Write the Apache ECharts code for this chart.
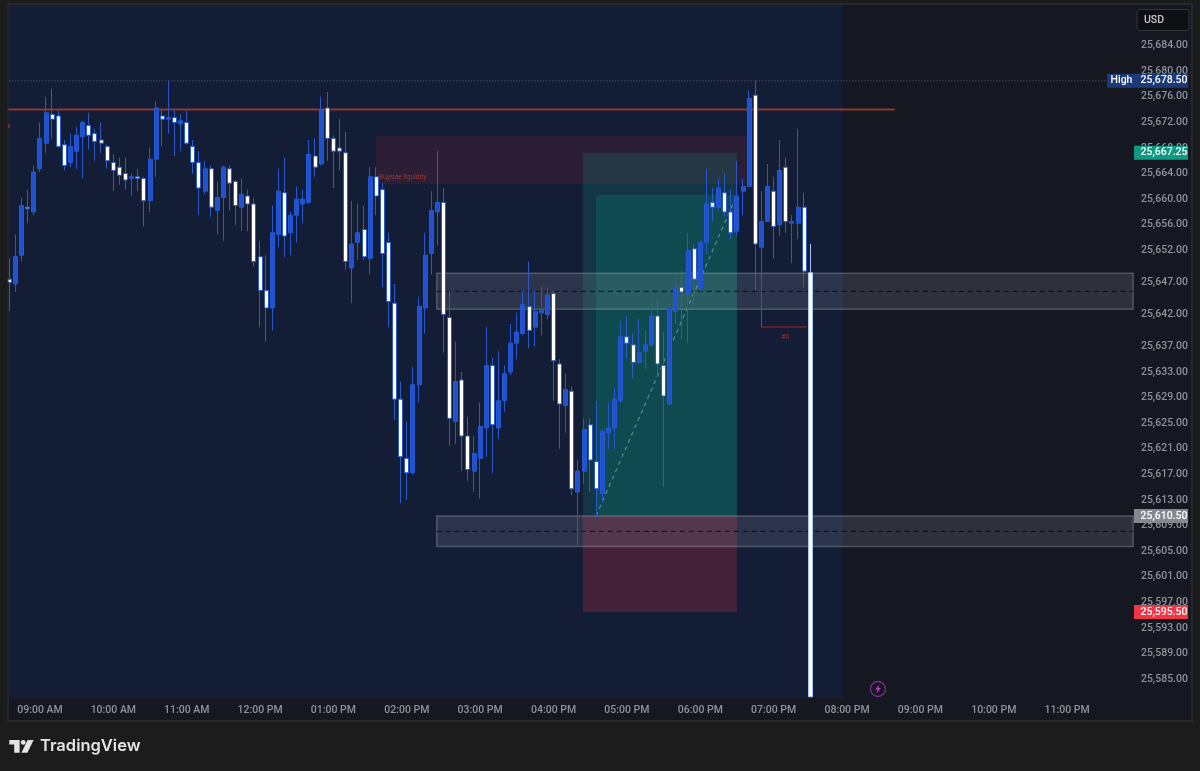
<!DOCTYPE html>
<html>
<head>
<meta charset="utf-8">
<title>NQ 5m</title>
<style>
  html, body { margin: 0; padding: 0; background: #1c1c1c; }
  #chart { width: 1200px; height: 771px; }
</style>
<script src="https://cdn.jsdelivr.net/npm/echarts@6/dist/echarts.min.js"></script>
</head>
<body>
<div id="chart"></div>
<script>
// 5 minute bars, open / close / low / high
const candles = [
  [25647.5,25647,25642.5,25650.75],[25646.75,25651,25645.5,25654.5],[25651.25,25659,25650.25,25660.25],[25658.75,25658.5,25656.25,25661.5],
  [25658,25664.25,25657.5,25665.25],[25664.75,25669.5,25664.25,25672],[25668.75,25673.5,25667.25,25676],[25673.25,25672.5,25669.5,25677.25],
  [25673,25668.25,25668,25673.75],[25668.5,25665.25,25664.5,25669.25],[25665.75,25668.25,25665,25670.25],[25667.5,25670,25664.75,25671.25],
  [25669.75,25672,25663.25,25672.25],[25671.5,25670,25667.75,25673.5],[25670.25,25669,25666,25671],[25669.25,25668.75,25667.25,25672],
  [25668.25,25666,25664.75,25668.5],[25665.75,25664.5,25661.25,25667],[25665,25663.75,25662.25,25666.5],[25664,25663,25661.5,25666.5],
  [25663.25,25663.5,25660.5,25664],[25663.5,25663.25,25661.25,25664.75],[25663.25,25659.75,25655.75,25663.5],[25659.75,25666.25,25658,25668],
  [25666.25,25674.25,25663.5,25675.25],[25673,25672.5,25668.25,25674],[25672.5,25672.75,25670.25,25678.5],[25672.75,25672,25666.75,25674],
  [25671.75,25672.25,25667.5,25673.25],[25672,25668.75,25668.5,25673.75],[25668.25,25665.75,25664,25669.25],[25665.75,25661.75,25657.5,25667.5],
  [25661.25,25664.75,25660.75,25666],[25664.75,25658.75,25657.25,25665.25],[25658.25,25660.25,25654.5,25662.75],[25660.25,25665,25653.5,25665.25],
  [25664.75,25662.5,25658.25,25665.25],[25662.75,25659,25656,25663],[25658.75,25660.75,25655,25663.25],[25660.5,25659.25,25655,25661.5],
  [25659.25,25650.25,25649.5,25660.25],[25651,25645.75,25640,25653.5],[25645.75,25643,25637.75,25651.25],[25643,25654.75,25639.5,25659],
  [25654.5,25661.25,25652.5,25664.75],[25661,25654.25,25651,25666.5],[25654.75,25657.5,25651.25,25658],[25657.5,25660,25653.25,25662],
  [25659.25,25660,25656.25,25661.5],[25659.5,25667,25659.25,25669.25],[25666.75,25665,25663.5,25669.5],[25665.5,25674,25665.25,25676],
  [25674.25,25669.5,25666,25676.75],[25669.5,25667.5,25661.75,25670],[25668,25667.5,25664.5,25672.5],[25667.25,25650.25,25649,25670.5],
  [25649.25,25653,25643.75,25659.75],[25653.25,25654.75,25650.5,25659.25],[25655.25,25651,25650.5,25659],[25650.75,25663.5,25648.25,25665],
  [25663.5,25660.5,25657.5,25665],[25661.5,25651.5,25646.25,25662.5],[25653.25,25644,25640,25654.75],[25643.75,25628.75,25625.5,25646.75],
  [25628.75,25619.75,25612.5,25631.5],[25619.5,25617.25,25613,25625.25],[25617.25,25631,25617,25633.75],[25631,25643.25,25628.25,25644.75],
  [25643,25651.25,25639,25654.75],[25651.5,25658.25,25648.25,25661.25],[25658,25659.5,25652.75,25667.5],[25659.5,25642,25636,25661.75],
  [25641.5,25625.75,25621.5,25645.75],[25625.25,25631.5,25621.75,25637.75],[25631.75,25623,25617.5,25633],[25623,25617.75,25616,25626],
  [25617.5,25620.25,25614.25,25623],[25619.5,25624.5,25613.25,25628.25],[25624.25,25634,25619.75,25640],[25634,25624.75,25617.25,25635.25],
  [25624.25,25628.5,25622.5,25636.25],[25628.5,25632.75,25626.75,25634],[25633,25637.5,25632.5,25640.5],[25637.5,25639.25,25635,25642.25],
  [25639,25643.5,25638.75,25645.75],[25643.25,25639.5,25636.75,25650.25],[25640,25642.5,25637,25645.75],[25642.25,25642.75,25638.75,25646.25],
  [25642,25645,25641.25,25646.25],[25645.25,25634.75,25628.5,25645.75],[25634.25,25628,25621,25635],[25627.75,25630.25,25623.5,25632.75],
  [25630,25614.75,25613.75,25630.75],[25614.25,25617.5,25605.75,25619.25],[25617.5,25624,25615.5,25625.75],[25624.75,25619.25,25614.25,25625.75],
  [25619,25614.75,25610.25,25628.5],[25614,25623.75,25612.5,25624],[25623.5,25624.25,25621,25628.25],[25624.25,25628.75,25621,25630.5],
  [25628.5,25638.5,25628.25,25641],[25638.5,25637.5,25635,25641.75],[25637.25,25634.5,25632,25639],[25634.5,25636,25634.25,25641.25],
  [25636.25,25637.25,25633.5,25639.5],[25637.25,25641.75,25637,25644],[25641.75,25634.25,25632.5,25644.25],[25634,25629.25,25615,25639.25],
  [25628,25643,25627.75,25644],[25642.5,25646.25,25640.5,25648.5],[25646.25,25645.5,25638,25648.75],[25645.25,25652,25637.5,25654.75],
  [25652.25,25647.5,25643,25653],[25646.25,25653.25,25645.5,25653.5],[25653.25,25659.25,25651.5,25664.75],[25659.5,25658.75,25656.5,25661.75],
  [25658.75,25661.75,25658.25,25663.25],[25661,25658,25657.25,25664],[25658,25654.75,25653.75,25661.5],[25655,25660.5,25654.25,25666],
  [25661.25,25662,25657.5,25663.25],[25662,25675.75,25662,25677],[25676.25,25653,25645.75,25678.5],[25652.5,25656.5,25640,25661.25],
  [25656.5,25662,25656.5,25665.5],[25661.25,25655.75,25650.75,25663.5],[25656,25664.5,25654.25,25669.25],[25665,25656.5,25654.75,25666.5],
  [25656.25,25656.5,25650,25657.5],[25656.25,25658.75,25653.75,25671],[25658.75,25648.75,25646.25,25661],[25648.5,25582.25,25582.25,25653]
]

const priceTicks = [25684, 25680, 25676, 25672, 25668, 25664, 25660, 25656, 25652, 25647, 25642, 25637, 25633, 25629, 25625, 25621, 25617, 25613, 25609, 25605, 25601, 25597, 25593, 25589, 25585]
const priceMin = 25582.06
const priceMax = 25690.34

// drawings: [from bar, to bar, top price, bottom price]
const sessionZone = [-0.5, 136.35, priceMax, priceMin]
const buysideZone = [59.96, 120.5, 25669.875, 25662.375]
const outerTarget = [93.8, 119.0, 25667.25, 25610.5]
const innerTarget = [95.95, 119.0, 25660.66, 25610.5]
const stopZone = [93.8, 119.0, 25610.5, 25595.5]
const upperBlock = [69.9, 183.8, 25648.42, 25642.8]
const lowerBlock = [69.9, 183.8, 25610.5, 25605.73]

// lines: [from bar, to bar, start price, end price]
const highLine = [-0.5, 179.5, 25678.5, 25678.5]
const buysideLine = [-0.5, 144.8, 25674.02, 25674.02]
const upperMid = [69.9, 183.8, 25645.6, 25645.6]
const lowerMid = [69.9, 183.8, 25608.1, 25608.1]
const riskLine = [95.95, 119.0, 25610.5, 25660.66]
const sweepLine = [123, 130.4, 25640.03, 25640.03]

const noteBars = [60.45, 126.9]
const notePrices = [25663.47, 25638.47]
const noteTexts = ['Buyside liquidity', '#0']

const tagPrices = [25678.5, 25667.25, 25610.5, 25595.5]
const tagColors = ['#1c3a78', '#0c9a82', '#85888f', '#f23645']

const categories = []
for (let i = 0; i < 185; i++) {
  const t = 8 * 60 + 35 + i * 5
  const h24 = Math.floor(t / 60)
  const h = h24 % 12 === 0 ? 12 : h24 % 12
  const m = t % 60
  categories.push((h < 10 ? '0' : '') + h + ':' + (m < 10 ? '0' : '') + m + (h24 < 12 ? ' AM' : ' PM'))
}

const axisFont = 'Roboto, sans-serif'
const money = v => v.toLocaleString('en-US', { minimumFractionDigits: 2, maximumFractionDigits: 2 })

function boxSeries(rows, fill, stroke, z) {
  return {
    type: 'custom',
    xAxisIndex: 1,
    yAxisIndex: 0,
    z: z,
    silent: true,
    clip: true,
    encode: { x: [0, 1], y: [2, 3] },
    data: rows,
    renderItem(params, api) {
      const a = api.coord([api.value(0), api.value(2)])
      const b = api.coord([api.value(1), api.value(3)])
      return {
        type: 'rect',
        shape: { x: a[0], y: a[1], width: b[0] - a[0], height: b[1] - a[1] },
        style: { fill: fill, stroke: stroke || 'none', lineWidth: stroke ? 1.5 : 0 }
      }
    }
  }
}

function lineSeries(rows, stroke, width, dash, z) {
  return {
    type: 'custom',
    xAxisIndex: 1,
    yAxisIndex: 0,
    z: z,
    silent: true,
    clip: true,
    encode: { x: [0, 1], y: [2, 3] },
    data: rows,
    renderItem(params, api) {
      const a = api.coord([api.value(0), api.value(2)])
      const b = api.coord([api.value(1), api.value(3)])
      return {
        type: 'line',
        shape: { x1: a[0], y1: a[1], x2: b[0], y2: b[1] },
        style: { stroke: stroke, lineWidth: width, lineDash: dash || null }
      }
    }
  }
}

const candleRows = candles.map((c, i) => {
  if (i === candles.length - 1) {
    return { value: c, itemStyle: { borderColor0: '#a9c6ff' } }
  }
  return c
})

const chart = echarts.init(document.getElementById('chart'))
chart.setOption({
  backgroundColor: '#1c1c1c',
  animation: false,
  grid: { left: 6.34, top: 5, width: 1131.09, height: 693 },
  xAxis: [{
    type: 'category',
    data: categories,
    axisLine: { show: false },
    axisTick: { show: false },
    splitLine: { show: false },
    axisLabel: {
      interval: (i, v) => v.indexOf(':00') === 2,
      color: '#8f9299',
      fontFamily: axisFont,
      fontSize: 10.5,
      fontWeight: 500,
      margin: 7,
      hideOverlap: false
    }
  }, {
    type: 'value',
    min: -0.5,
    max: 184.5,
    show: false
  }],
  yAxis: {
    type: 'value',
    position: 'right',
    min: priceMin,
    max: priceMax,
    scale: true,
    axisLine: { show: false },
    axisTick: { show: false },
    splitLine: { show: false },
    axisLabel: {
      customValues: priceTicks,
      formatter: v => money(v),
      color: '#8f9299',
      fontFamily: axisFont,
      fontSize: 10.5,
      fontWeight: 500,
      margin: 3.5,
      padding: [0, 0, 2, 0]
    }
  },
  graphic: [
    { type: 'rect', z: -1, shape: { x: 8, y: 4, width: 1184, height: 717 }, style: { fill: '#151821', stroke: '#26282d', lineWidth: 2 } },
    { type: 'rect', z: 50, shape: { x: 0, y: 0, width: 7.5, height: 771 }, style: { fill: '#1c1c1c' } },
    { type: 'rect', z: 50, shape: { x: 7.5, y: 4, width: 1, height: 717 }, style: { fill: '#26282d' } },
    { type: 'rect', z: 50, shape: { x: 8, y: 124.5, width: 2, height: 3 }, style: { fill: '#8a3030' } },
    // USD button
    { type: 'rect', z: 50, shape: { x: 1137, y: 9.5, width: 52, height: 21, r: 3 }, style: { fill: '#0e0f12', stroke: '#33363c', lineWidth: 1 } },
    { type: 'text', z: 51, style: { x: 1144, y: 20, text: 'USD', fill: '#c9cbd0', font: '500 10.5px ' + axisFont, verticalAlign: 'middle' } },
    // lightning badge
    { type: 'circle', z: 50, shape: { cx: 878, cy: 689, r: 7.5 }, style: { fill: 'none', stroke: '#7c2a8c', lineWidth: 1.3 } },
    { type: 'polygon', z: 50, shape: { points: [[879.5, 684.5], [875, 689.5], [877.6, 689.5], [876.5, 693.5], [881, 688], [878.4, 688]] }, style: { fill: '#b23ac6' } },
    // TradingView mark
    { type: 'polygon', z: 50, shape: { points: [[9.3, 740], [19.6, 740], [19.6, 752.7], [14.2, 752.7], [14.2, 744.6], [9.3, 744.6]] }, style: { fill: '#e4e4e4' } },
    { type: 'circle', z: 50, shape: { cx: 23.2, cy: 742.4, r: 2.4 }, style: { fill: '#e4e4e4' } },
    { type: 'polygon', z: 50, shape: { points: [[27.6, 740], [33.6, 740], [27.4, 752.7], [21.4, 752.7]] }, style: { fill: '#e4e4e4' } },
    { type: 'text', z: 50, style: { x: 40, y: 746, text: 'TradingView', fill: '#e4e4e4', font: '600 16.5px Inter, sans-serif', verticalAlign: 'middle' } }
  ],
  series: [
    boxSeries([sessionZone], '#141d36', null, 1),
    lineSeries([highLine], '#5a5f6b', 1, [1, 2], 1),
    boxSeries([buysideZone], 'rgba(130,40,50,0.22)', null, 2),
    boxSeries([outerTarget, innerTarget], 'rgba(8,153,129,0.2)', null, 2),
    boxSeries([stopZone], 'rgba(242,54,69,0.21)', null, 2),
    boxSeries([upperBlock, lowerBlock], 'rgba(200,205,215,0.14)', 'rgba(190,195,200,0.3)', 3),
    lineSeries([upperMid, lowerMid], '#0b0d12', 1, [5, 4], 3),
    lineSeries([buysideLine], '#8a3a30', 2, null, 3),
    lineSeries([riskLine], 'rgba(130,175,165,0.65)', 1.2, [4, 4], 3),
    lineSeries([sweepLine], '#a8232a', 1.2, null, 3),
    {
      type: 'candlestick',
      xAxisIndex: 0,
      yAxisIndex: 0,
      z: 4,
      barWidth: 4.5,
      clip: true,
      silent: true,
      data: candleRows,
      itemStyle: {
        color: '#1f52d1',
        color0: '#ffffff',
        borderColor: '#2558cf',
        borderColor0: '#2a5bc8',
        borderWidth: 1
      }
    },
    {
      type: 'custom',
      xAxisIndex: 1,
      yAxisIndex: 0,
      z: 5,
      silent: true,
      data: noteBars.map((b, i) => [b, notePrices[i]]),
      renderItem(params, api) {
        const p = api.coord([api.value(0), api.value(1)])
        return {
          type: 'text',
          style: { x: p[0], y: p[1], text: noteTexts[params.dataIndex], fill: '#a8382e', font: '6.2px "Noto Sans", sans-serif', verticalAlign: 'middle', align: params.dataIndex === 0 ? 'left' : 'center' }
        }
      }
    },
    {
      // price tags sit on the axis strip, outside the plot
      type: 'custom',
      xAxisIndex: 1,
      yAxisIndex: 0,
      z: 10,
      silent: true,
      clip: false,
      data: tagPrices.map(p => [183.8, p]),
      renderItem(params, api) {
        const p = api.coord([api.value(0), api.value(1)])
        const color = tagColors[params.dataIndex]
        const kids = [
          { type: 'rect', shape: { x: 1134, y: p[1] - 7, width: 54, height: 14 }, style: { fill: color } },
          { type: 'text', style: { x: 1140.5, y: p[1], text: money(api.value(1)), fill: '#ffffff', font: '500 10.5px ' + axisFont, verticalAlign: 'middle' } }
        ]
        if (params.dataIndex === 0) {
          kids.push({ type: 'rect', shape: { x: 1107, y: p[1] - 7, width: 27, height: 14 }, style: { fill: color } })
          kids.push({ type: 'text', style: { x: 1110.5, y: p[1], text: 'High', fill: '#ffffff', font: '500 10.5px ' + axisFont, verticalAlign: 'middle' } })
        }
        return { type: 'group', children: kids }
      }
    }
  ]
})
</script>
</body>
</html>
